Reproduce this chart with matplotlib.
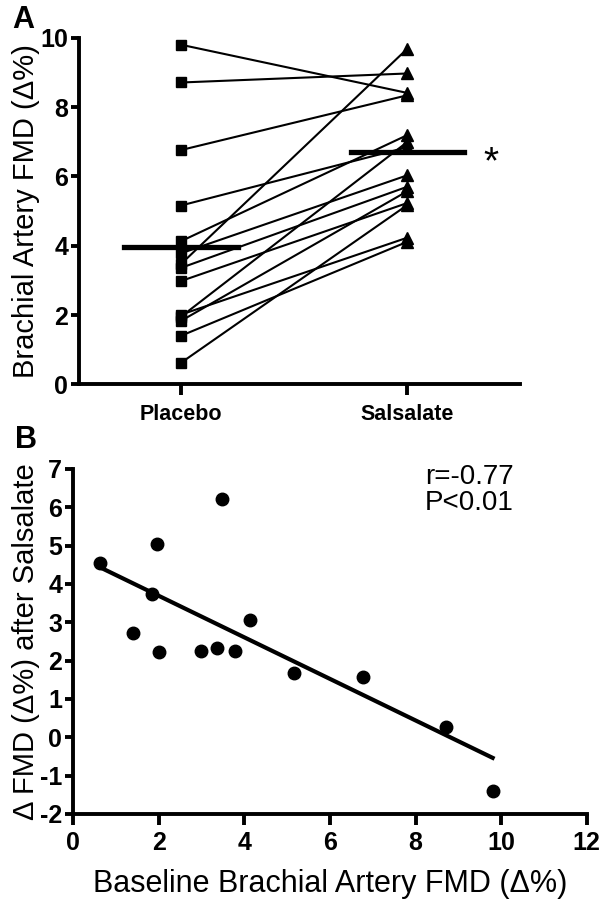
import matplotlib
matplotlib.use("Agg")
import matplotlib.pyplot as plt
import numpy as np

plt.rcParams['font.family'] = ['Liberation Sans', 'DejaVu Sans']
plt.rcParams['axes.unicode_minus'] = False

# Panel A: FMD per subject, placebo vs salsalate
groups = ["Placebo", "Salsalate"]
placebo = [0.62, 1.40, 1.83, 1.95, 2.01, 2.98, 3.36, 3.47, 3.78, 4.13, 5.16, 6.76, 8.71, 9.80]
salsalate = [5.17, 4.11, 5.57, 6.99, 4.23, 5.23, 5.70, 9.68, 6.03, 7.19, 6.84, 8.34, 8.97, 8.41]
group_means = [3.97, 6.69]

# Panel B: change in FMD after salsalate vs baseline
delta = [4.55, 2.71, 3.74, 5.04, 2.22, 2.25, 2.34, 6.21, 2.25, 3.06, 1.68, 1.58, 0.26, -1.39]

fig = plt.figure(figsize=(6, 9), dpi=100)

# ---------------- panel A
ax1 = fig.add_axes([0.132, 0.573, 0.735, 0.385])
for p, s in zip(placebo, salsalate):
    ax1.plot([0, 1], [p, s], color='black', lw=1.5, zorder=2)
ax1.plot(np.zeros(len(placebo)), placebo, 's', color='black', ms=6.5, zorder=3)
ax1.plot(np.ones(len(salsalate)), salsalate, '^', color='black', ms=8, zorder=3)
for i, m in enumerate(group_means):
    ax1.plot([i - 0.25, i + 0.25], [m, m], color='black', lw=3.8, zorder=4)
ax1.text(1.37, group_means[1] - 0.3, "*", fontsize=28, ha='center', va='center')

ax1.set_xlim(-0.45, 1.5)
ax1.set_ylim(0, 10)
ax1.set_xticks([0, 1])
ax1.set_xticklabels(groups)
ax1.set_yticks(range(0, 11, 2))
ax1.set_ylabel("Brachial Artery FMD (Δ%)", fontsize=21, labelpad=0)
fig.text(0.02, 0.995, "A", fontsize=22, fontweight='bold', va='top', ha='left')

# ---------------- panel B
ax2 = fig.add_axes([0.122, 0.0956, 0.856, 0.3834])
ax2.plot(placebo, delta, 'o', color='black', ms=9, zorder=3)
slope, intercept = np.polyfit(placebo, delta, 1)
xs = np.array([min(placebo), max(placebo)])
ax2.plot(xs, slope * xs + intercept, color='black', lw=3, zorder=2)
ax2.text(0.685, 1.015, "r=-0.77\nP<0.01", transform=ax2.transAxes, fontsize=20,
         va='top', ha='left', linespacing=1.0)

ax2.set_xlim(0, 12)
ax2.set_ylim(-2, 7)
ax2.set_xticks(range(0, 13, 2))
ax2.set_yticks(range(-2, 8))
ax2.set_xlabel("Baseline Brachial Artery FMD (Δ%)", fontsize=22, labelpad=10)
ax2.set_ylabel("Δ FMD (Δ%) after Salsalate", fontsize=21, labelpad=0)
fig.text(0.025, 0.528, "B", fontsize=22, fontweight='bold', va='top', ha='left')

for ax in (ax1, ax2):
    ax.spines['top'].set_visible(False)
    ax.spines['right'].set_visible(False)
    ax.spines['left'].set_linewidth(2.8)
    ax.spines['bottom'].set_linewidth(2.8)
    ax.tick_params(width=2.8, length=6, labelsize=18, pad=2)
    for lab in ax.get_xticklabels() + ax.get_yticklabels():
        lab.set_fontweight('bold')
ax1.tick_params(axis='x', length=8, labelsize=15.5, pad=6)
ax2.tick_params(axis='x', length=8, pad=4)

fig.savefig("out.png", dpi=100)
